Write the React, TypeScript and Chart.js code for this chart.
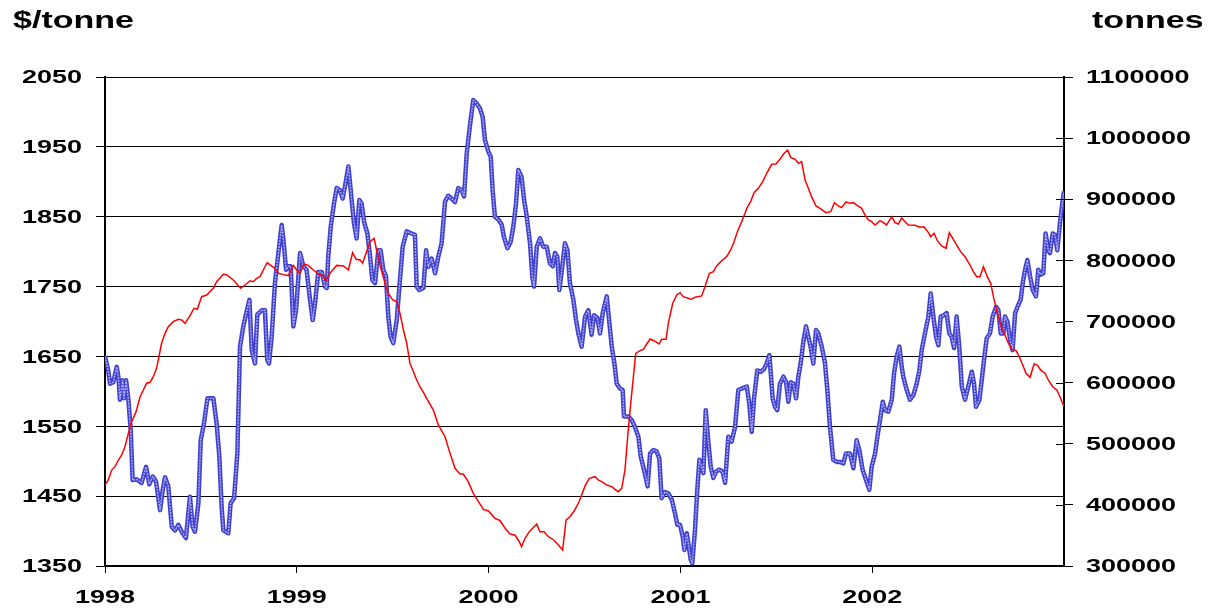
import React, { useEffect, useRef } from "react";
import { Chart, registerables } from "chart.js";

Chart.register(...registerables);

// Aluminium price ($/tonne), dates as decimal years
const priceDates = [
  1998.000, 1998.017, 1998.026, 1998.043, 1998.061, 1998.070, 1998.078, 1998.092, 1998.099, 1998.110,
  1998.122, 1998.134, 1998.144, 1998.165, 1998.191, 1998.214, 1998.231, 1998.249, 1998.266, 1998.287,
  1998.301, 1998.313, 1998.330, 1998.348, 1998.365, 1998.382, 1998.400, 1998.422, 1998.443, 1998.457,
  1998.469, 1998.487, 1998.499, 1998.516, 1998.534, 1998.565, 1998.582, 1998.596, 1998.608, 1998.617,
  1998.643, 1998.655, 1998.673, 1998.690, 1998.704, 1998.721, 1998.735, 1998.753, 1998.765, 1998.782,
  1998.794, 1998.817, 1998.834, 1998.846, 1998.855, 1998.869, 1998.886, 1998.904, 1998.921, 1998.930,
  1998.944, 1998.956, 1998.968, 1998.982, 1998.996, 1999.017, 1999.034, 1999.051, 1999.069, 1999.083,
  1999.095, 1999.112, 1999.130, 1999.147, 1999.156, 1999.164, 1999.177, 1999.194, 1999.208, 1999.225,
  1999.239, 1999.251, 1999.269, 1999.286, 1999.298, 1999.312, 1999.326, 1999.338, 1999.352, 1999.368,
  1999.382, 1999.394, 1999.408, 1999.425, 1999.437, 1999.451, 1999.465, 1999.477, 1999.489, 1999.503,
  1999.521, 1999.535, 1999.552, 1999.573, 1999.599, 1999.616, 1999.625, 1999.639, 1999.660, 1999.674,
  1999.686, 1999.703, 1999.721, 1999.738, 1999.755, 1999.773, 1999.790, 1999.807, 1999.825, 1999.842,
  1999.860, 1999.872, 1999.886, 1999.903, 1999.920, 1999.938, 1999.955, 1999.969, 1999.981, 1999.999,
  2000.011, 2000.021, 2000.033, 2000.051, 2000.068, 2000.080, 2000.098, 2000.115, 2000.129, 2000.143,
  2000.155, 2000.172, 2000.185, 2000.199, 2000.216, 2000.228, 2000.237, 2000.251, 2000.268, 2000.285,
  2000.303, 2000.320, 2000.334, 2000.346, 2000.358, 2000.369, 2000.386, 2000.398, 2000.411, 2000.424,
  2000.442, 2000.456, 2000.468, 2000.485, 2000.503, 2000.520, 2000.537, 2000.550, 2000.567, 2000.581,
  2000.595, 2000.616, 2000.630, 2000.642, 2000.656, 2000.668, 2000.685, 2000.699, 2000.706, 2000.729,
  2000.746, 2000.763, 2000.781, 2000.793, 2000.810, 2000.829, 2000.842, 2000.859, 2000.876, 2000.890,
  2000.902, 2000.920, 2000.937, 2000.955, 2000.972, 2000.984, 2000.998, 2001.012, 2001.021, 2001.033,
  2001.041, 2001.054, 2001.062, 2001.076, 2001.088, 2001.099, 2001.111, 2001.120, 2001.132, 2001.146,
  2001.158, 2001.172, 2001.186, 2001.203, 2001.220, 2001.233, 2001.250, 2001.267, 2001.285, 2001.302,
  2001.319, 2001.346, 2001.359, 2001.372, 2001.384, 2001.401, 2001.419, 2001.436, 2001.450, 2001.464,
  2001.481, 2001.493, 2001.505, 2001.519, 2001.537, 2001.551, 2001.563, 2001.575, 2001.589, 2001.603,
  2001.615, 2001.627, 2001.641, 2001.655, 2001.667, 2001.679, 2001.693, 2001.707, 2001.719, 2001.737,
  2001.754, 2001.766, 2001.780, 2001.797, 2001.815, 2001.832, 2001.850, 2001.863, 2001.884, 2001.902,
  2001.919, 2001.933, 2001.950, 2001.968, 2001.985, 2001.997, 2002.015, 2002.027, 2002.041, 2002.055,
  2002.067, 2002.084, 2002.102, 2002.114, 2002.128, 2002.142, 2002.154, 2002.162, 2002.180, 2002.197,
  2002.215, 2002.232, 2002.246, 2002.258, 2002.275, 2002.293, 2002.305, 2002.319, 2002.333, 2002.345,
  2002.357, 2002.374, 2002.388, 2002.402, 2002.414, 2002.427, 2002.440, 2002.454, 2002.467, 2002.484,
  2002.501, 2002.519, 2002.531, 2002.541, 2002.559, 2002.571, 2002.583, 2002.597, 2002.614, 2002.628,
  2002.646, 2002.658, 2002.670, 2002.684, 2002.692, 2002.705, 2002.719, 2002.732, 2002.745, 2002.762,
  2002.774, 2002.785, 2002.797, 2002.809, 2002.823, 2002.837, 2002.854, 2002.866, 2002.878, 2002.892,
  2002.904, 2002.918, 2002.927, 2002.941, 2002.953, 2002.965, 2002.979, 2002.991, 2003.000,
];

const prices = [
  1650, 1630, 1611, 1613, 1635, 1620, 1588, 1616, 1590, 1616,
  1588, 1545, 1473, 1474, 1469, 1492, 1467, 1478, 1471, 1430,
  1459, 1477, 1464, 1406, 1401, 1409, 1399, 1390, 1449, 1406,
  1399, 1440, 1530, 1554, 1590, 1590, 1554, 1507, 1435, 1401,
  1397, 1440, 1447, 1511, 1664, 1693, 1710, 1731, 1659, 1640,
  1710, 1716, 1716, 1645, 1640, 1678, 1755, 1798, 1838, 1818,
  1774, 1779, 1779, 1693, 1716, 1798, 1779, 1774, 1731, 1702,
  1726, 1771, 1771, 1750, 1748, 1793, 1836, 1869, 1891, 1888,
  1876, 1893, 1922, 1874, 1841, 1819, 1874, 1869, 1841, 1826,
  1793, 1759, 1755, 1802, 1802, 1774, 1765, 1707, 1678, 1669,
  1702, 1750, 1807, 1829, 1826, 1824, 1750, 1745, 1748, 1802,
  1778, 1790, 1769, 1793, 1812, 1872, 1880, 1876, 1871, 1891,
  1888, 1879, 1941, 1981, 2017, 2012, 2005, 1993, 1960, 1943,
  1936, 1888, 1850, 1846, 1839, 1821, 1805, 1814, 1836, 1869,
  1917, 1907, 1874, 1850, 1812, 1764, 1750, 1807, 1819, 1807,
  1807, 1783, 1779, 1798, 1793, 1745, 1783, 1812, 1802, 1755,
  1731, 1702, 1683, 1664, 1707, 1716, 1681, 1709, 1705, 1683,
  1712, 1736, 1697, 1664, 1640, 1611, 1604, 1602, 1564, 1564,
  1559, 1549, 1535, 1507, 1488, 1464, 1511, 1516, 1514, 1504,
  1447, 1456, 1454, 1445, 1425, 1409, 1409, 1392, 1373, 1397,
  1383, 1359, 1354, 1401, 1459, 1502, 1492, 1483, 1573, 1526,
  1492, 1476, 1485, 1488, 1485, 1469, 1535, 1528, 1549, 1602,
  1604, 1607, 1583, 1542, 1590, 1630, 1628, 1632, 1640, 1652,
  1590, 1578, 1573, 1611, 1621, 1613, 1585, 1613, 1611, 1590,
  1621, 1640, 1671, 1693, 1678, 1664, 1640, 1688, 1683, 1664,
  1640, 1602, 1549, 1502, 1499, 1499, 1497, 1511, 1511, 1490,
  1530, 1516, 1488, 1473, 1459, 1492, 1511, 1535, 1559, 1585,
  1573, 1571, 1588, 1626, 1650, 1664, 1635, 1621, 1602, 1588,
  1595, 1611, 1630, 1659, 1683, 1707, 1740, 1707, 1678, 1666,
  1707, 1709, 1712, 1683, 1678, 1662, 1707, 1664, 1607, 1588,
  1607, 1628, 1611, 1578, 1588, 1616, 1645, 1676, 1683, 1707,
  1721, 1716, 1683, 1683, 1707, 1700, 1674, 1659, 1712, 1724,
  1731, 1755, 1774, 1788, 1765, 1745, 1736, 1774, 1767, 1769,
  1826, 1802, 1798, 1826, 1824, 1802, 1841, 1869, 1886,
];

// Stocks (tonnes), dates as decimal years
const stockDates = [
  1998.000, 1998.017, 1998.035, 1998.052, 1998.070, 1998.087, 1998.104, 1998.122, 1998.139, 1998.162,
  1998.183, 1998.200, 1998.217, 1998.235, 1998.252, 1998.269, 1998.283, 1998.295, 1998.313, 1998.330,
  1998.356, 1998.382, 1998.400, 1998.417, 1998.440, 1998.464, 1998.481, 1998.504, 1998.530, 1998.565,
  1998.582, 1998.617, 1998.634, 1998.669, 1998.707, 1998.730, 1998.756, 1998.773, 1998.791, 1998.808,
  1998.834, 1998.846, 1998.864, 1998.886, 1998.904, 1998.930, 1998.956, 1998.982, 1998.999, 1999.017,
  1999.038, 1999.060, 1999.086, 1999.112, 1999.135, 1999.152, 1999.173, 1999.208, 1999.243, 1999.269,
  1999.291, 1999.309, 1999.330, 1999.343, 1999.361, 1999.382, 1999.403, 1999.416, 1999.434, 1999.460,
  1999.477, 1999.500, 1999.521, 1999.538, 1999.556, 1999.573, 1999.590, 1999.608, 1999.625, 1999.642,
  1999.663, 1999.677, 1999.712, 1999.738, 1999.773, 1999.799, 1999.825, 1999.851, 1999.868, 1999.894,
  1999.920, 1999.947, 1999.973, 1999.999, 2000.033, 2000.059, 2000.086, 2000.112, 2000.138, 2000.160,
  2000.172, 2000.190, 2000.212, 2000.251, 2000.268, 2000.289, 2000.312, 2000.338, 2000.364, 2000.386,
  2000.404, 2000.424, 2000.445, 2000.468, 2000.485, 2000.503, 2000.525, 2000.555, 2000.572, 2000.598,
  2000.616, 2000.642, 2000.659, 2000.676, 2000.694, 2000.711, 2000.725, 2000.741, 2000.755, 2000.767,
  2000.789, 2000.807, 2000.821, 2000.842, 2000.862, 2000.889, 2000.902, 2000.925, 2000.937, 2000.960,
  2000.981, 2000.998, 2001.015, 2001.055, 2001.076, 2001.111, 2001.128, 2001.151, 2001.172, 2001.189,
  2001.215, 2001.241, 2001.262, 2001.280, 2001.297, 2001.319, 2001.337, 2001.346, 2001.366, 2001.384,
  2001.406, 2001.429, 2001.450, 2001.476, 2001.498, 2001.519, 2001.537, 2001.559, 2001.575, 2001.598,
  2001.615, 2001.632, 2001.650, 2001.667, 2001.684, 2001.707, 2001.728, 2001.759, 2001.784, 2001.803,
  2001.823, 2001.841, 2001.863, 2001.884, 2001.902, 2001.919, 2001.945, 2001.963, 2001.980, 2001.997,
  2002.015, 2002.041, 2002.058, 2002.075, 2002.102, 2002.119, 2002.136, 2002.154, 2002.171, 2002.188,
  2002.223, 2002.249, 2002.270, 2002.293, 2002.305, 2002.322, 2002.340, 2002.362, 2002.385, 2002.402,
  2002.423, 2002.440, 2002.461, 2002.484, 2002.510, 2002.527, 2002.545, 2002.562, 2002.580, 2002.600,
  2002.618, 2002.632, 2002.653, 2002.670, 2002.692, 2002.710, 2002.727, 2002.750, 2002.767, 2002.785,
  2002.802, 2002.823, 2002.844, 2002.861, 2002.878, 2002.901, 2002.918, 2002.941, 2002.962, 2002.979,
  2003.000,
];

const stocks = [
  432500, 440700, 457000, 462500, 473400, 481600, 495200, 517100, 536100, 552500,
  577000, 588000, 599000, 600600, 609700, 623400, 645200, 664400, 680700, 691600,
  699800, 703600, 702500, 697000, 708000, 721600, 719900, 740600, 743400, 754300,
  765100, 777200, 776700, 767900, 754300, 759700, 766700, 765100, 770500, 773300,
  789600, 796200, 791800, 787000, 778900, 776700, 775100, 791800, 784200, 778900,
  794100, 791800, 784200, 777800, 775100, 766700, 778900, 791800, 790800, 784200,
  812600, 801800, 800700, 795300, 811600, 830600, 836100, 817000, 791800, 762500,
  746100, 735200, 732500, 713400, 686100, 664400, 631600, 617900, 604300, 593300,
  582500, 574400, 555200, 530700, 511500, 484300, 459800, 450500, 450500, 437900,
  418900, 405200, 392700, 390000, 378000, 374500, 361700, 352400, 350300, 339700,
  331600, 345300, 356100, 368700, 356100, 356100, 347900, 343000, 334400, 326200,
  375300, 380600, 389600, 402600, 416200, 431000, 443500, 446100, 440700, 436400,
  432500, 429800, 425500, 421600, 427000, 457000, 511500, 566100, 609700, 647800,
  652300, 654500, 661600, 671400, 668600, 663200, 670800, 670800, 697000, 729800,
  743400, 747200, 740600, 736300, 739600, 741800, 757000, 778900, 781500, 790800,
  799500, 806000, 817000, 830600, 846900, 863300, 877000, 885200, 896000, 910800,
  917900, 928800, 942500, 957200, 957800, 965400, 973500, 980600, 968600, 965400,
  958800, 961500, 931500, 917900, 904200, 889000, 885200, 878000, 879700, 894400,
  889000, 886300, 895500, 893300, 894400, 890500, 885200, 874200, 866000, 863300,
  857900, 864900, 861600, 857900, 871500, 861600, 859400, 869300, 863300, 857900,
  857300, 854100, 855100, 845400, 838800, 844300, 832200, 823500, 819800, 845400,
  834400, 825200, 814300, 806000, 792400, 781500, 773300, 773300, 789600, 773300,
  762500, 740600, 713400, 694300, 677900, 664400, 654500, 652300, 642300, 628800,
  615300, 608700, 630500, 628800, 620700, 615300, 604300, 593300, 587900, 577000,
  560600,
];

const yearRange = [1998, 2003];
const priceRange = [1350, 2050];
const stockRange = [300000, 1100000];
const leftTitle = "$/tonne";
const rightTitle = "tonnes";

const FONT = '"Liberation Sans", Arial, Helvetica, sans-serif';
const SX_TICK = 1.42;
const SX_TITLE = 1.48;

function drawStretched(
  ctx: CanvasRenderingContext2D,
  text: string,
  x: number,
  y: number,
  size: number,
  sx: number,
  align: CanvasTextAlign,
  baseline: CanvasTextBaseline
) {
  ctx.save();
  ctx.font = `bold ${size}px ${FONT}`;
  ctx.textAlign = align;
  ctx.textBaseline = baseline;
  ctx.fillStyle = "#000";
  ctx.translate(x, y);
  ctx.scale(sx, 1);
  ctx.fillText(text, 0, 0);
  ctx.restore();
}

const labelPlugin = {
  id: "stretchedLabels",
  afterDraw(chart: any) {
    const ctx: CanvasRenderingContext2D = chart.ctx;
    const { x, y, y1 } = chart.scales;
    const area = chart.chartArea;
    ctx.save();
    ctx.strokeStyle = "#000";
    ctx.lineWidth = 1;
    y1.ticks.forEach((t: any) => {
      const py = Math.round(y1.getPixelForValue(t.value)) + 0.5;
      ctx.beginPath();
      ctx.moveTo(area.right - 8, py);
      ctx.lineTo(area.right, py);
      ctx.stroke();
    });
    y.ticks.forEach((t: any) => {
      drawStretched(ctx, String(t.value), area.left - 23, y.getPixelForValue(t.value) + 1, 19, SX_TICK, "right", "middle");
    });
    y1.ticks.forEach((t: any) => {
      drawStretched(ctx, String(t.value), area.right + 22, y1.getPixelForValue(t.value) + 1, 19, SX_TICK, "left", "middle");
    });
    x.ticks.forEach((t: any) => {
      drawStretched(ctx, String(t.value), x.getPixelForValue(t.value), area.bottom + 32, 19, SX_TICK, "center", "middle");
    });
    drawStretched(ctx, leftTitle, 5, 20, 23, SX_TITLE, "left", "alphabetic");
    drawStretched(ctx, rightTitle, 1084, 20, 23, SX_TITLE, "left", "alphabetic");
    ctx.restore();
  },
};

export default function App() {
  const canvasRef = useRef<HTMLCanvasElement | null>(null);

  useEffect(() => {
    const canvas = canvasRef.current;
    if (!canvas) return;
    const pricePoints = priceDates.map((d, i) => ({ x: d, y: prices[i] }));
    const stockPoints = stockDates.map((d, i) => ({ x: d, y: stocks[i] }));

    const chart = new Chart(canvas, {
      type: "line",
      data: {
        datasets: [
          {
            label: "Stocks",
            data: stockPoints,
            yAxisID: "y1",
            borderColor: "#ff0000",
            borderWidth: 1.5,
            pointRadius: 0,
            tension: 0,
            fill: false,
          },
          {
            label: "Price (inner)",
            data: pricePoints,
            yAxisID: "y",
            borderColor: "#b0b0f2",
            borderWidth: 1.4,
            borderDash: [2, 1],
            pointRadius: 0,
            tension: 0,
            fill: false,
            borderJoinStyle: "round",
          },
          {
            label: "Price",
            data: pricePoints,
            yAxisID: "y",
            borderColor: "#4040d0",
            borderWidth: 4.5,
            pointRadius: 0,
            tension: 0,
            fill: false,
            borderJoinStyle: "round",
          },
        ],
      },
      options: {
        responsive: false,
        animation: false,
        devicePixelRatio: 1,
        layout: { padding: { top: 69, left: 0, right: 0, bottom: 0 } },
        plugins: {
          legend: { display: false },
          tooltip: { enabled: false },
          title: { display: false },
        },
        scales: {
          x: {
            type: "linear",
            min: yearRange[0],
            max: yearRange[1],
            ticks: { display: false, stepSize: 1 },
            afterBuildTicks: (s: any) => {
              s.ticks = s.ticks.filter((t: any) => t.value < yearRange[1]);
            },
            afterFit: (s: any) => {
              s.height = 37;
            },
            grid: { drawOnChartArea: false, drawTicks: true, tickLength: 7, color: "#000", lineWidth: 1 },
            border: { display: true, color: "#000", width: 2 },
          },
          y: {
            type: "linear",
            position: "left",
            min: priceRange[0],
            max: priceRange[1],
            ticks: { display: false, stepSize: 100 },
            afterFit: (s: any) => {
              s.width = 97;
            },
            grid: { color: "#000", lineWidth: 1, drawTicks: true, tickLength: 9 },
            border: { display: true, color: "#000", width: 2 },
          },
          y1: {
            type: "linear",
            position: "right",
            min: stockRange[0],
            max: stockRange[1],
            ticks: { display: false, stepSize: 100000 },
            afterFit: (s: any) => {
              s.width = 138;
            },
            grid: { drawOnChartArea: false, drawTicks: true, tickLength: 9, color: "#000", lineWidth: 1 },
            border: { display: true, color: "#000", width: 2 },
          },
        },
      },
      plugins: [labelPlugin],
    } as any);

    return () => {
      chart.destroy();
    };
  }, []);

  return (
    <div style={{ width: 1194, height: 595 }}>
      <canvas ref={canvasRef} width={1194} height={595} style={{ display: "block", width: 1194, height: 595 }} />
    </div>
  );
}
